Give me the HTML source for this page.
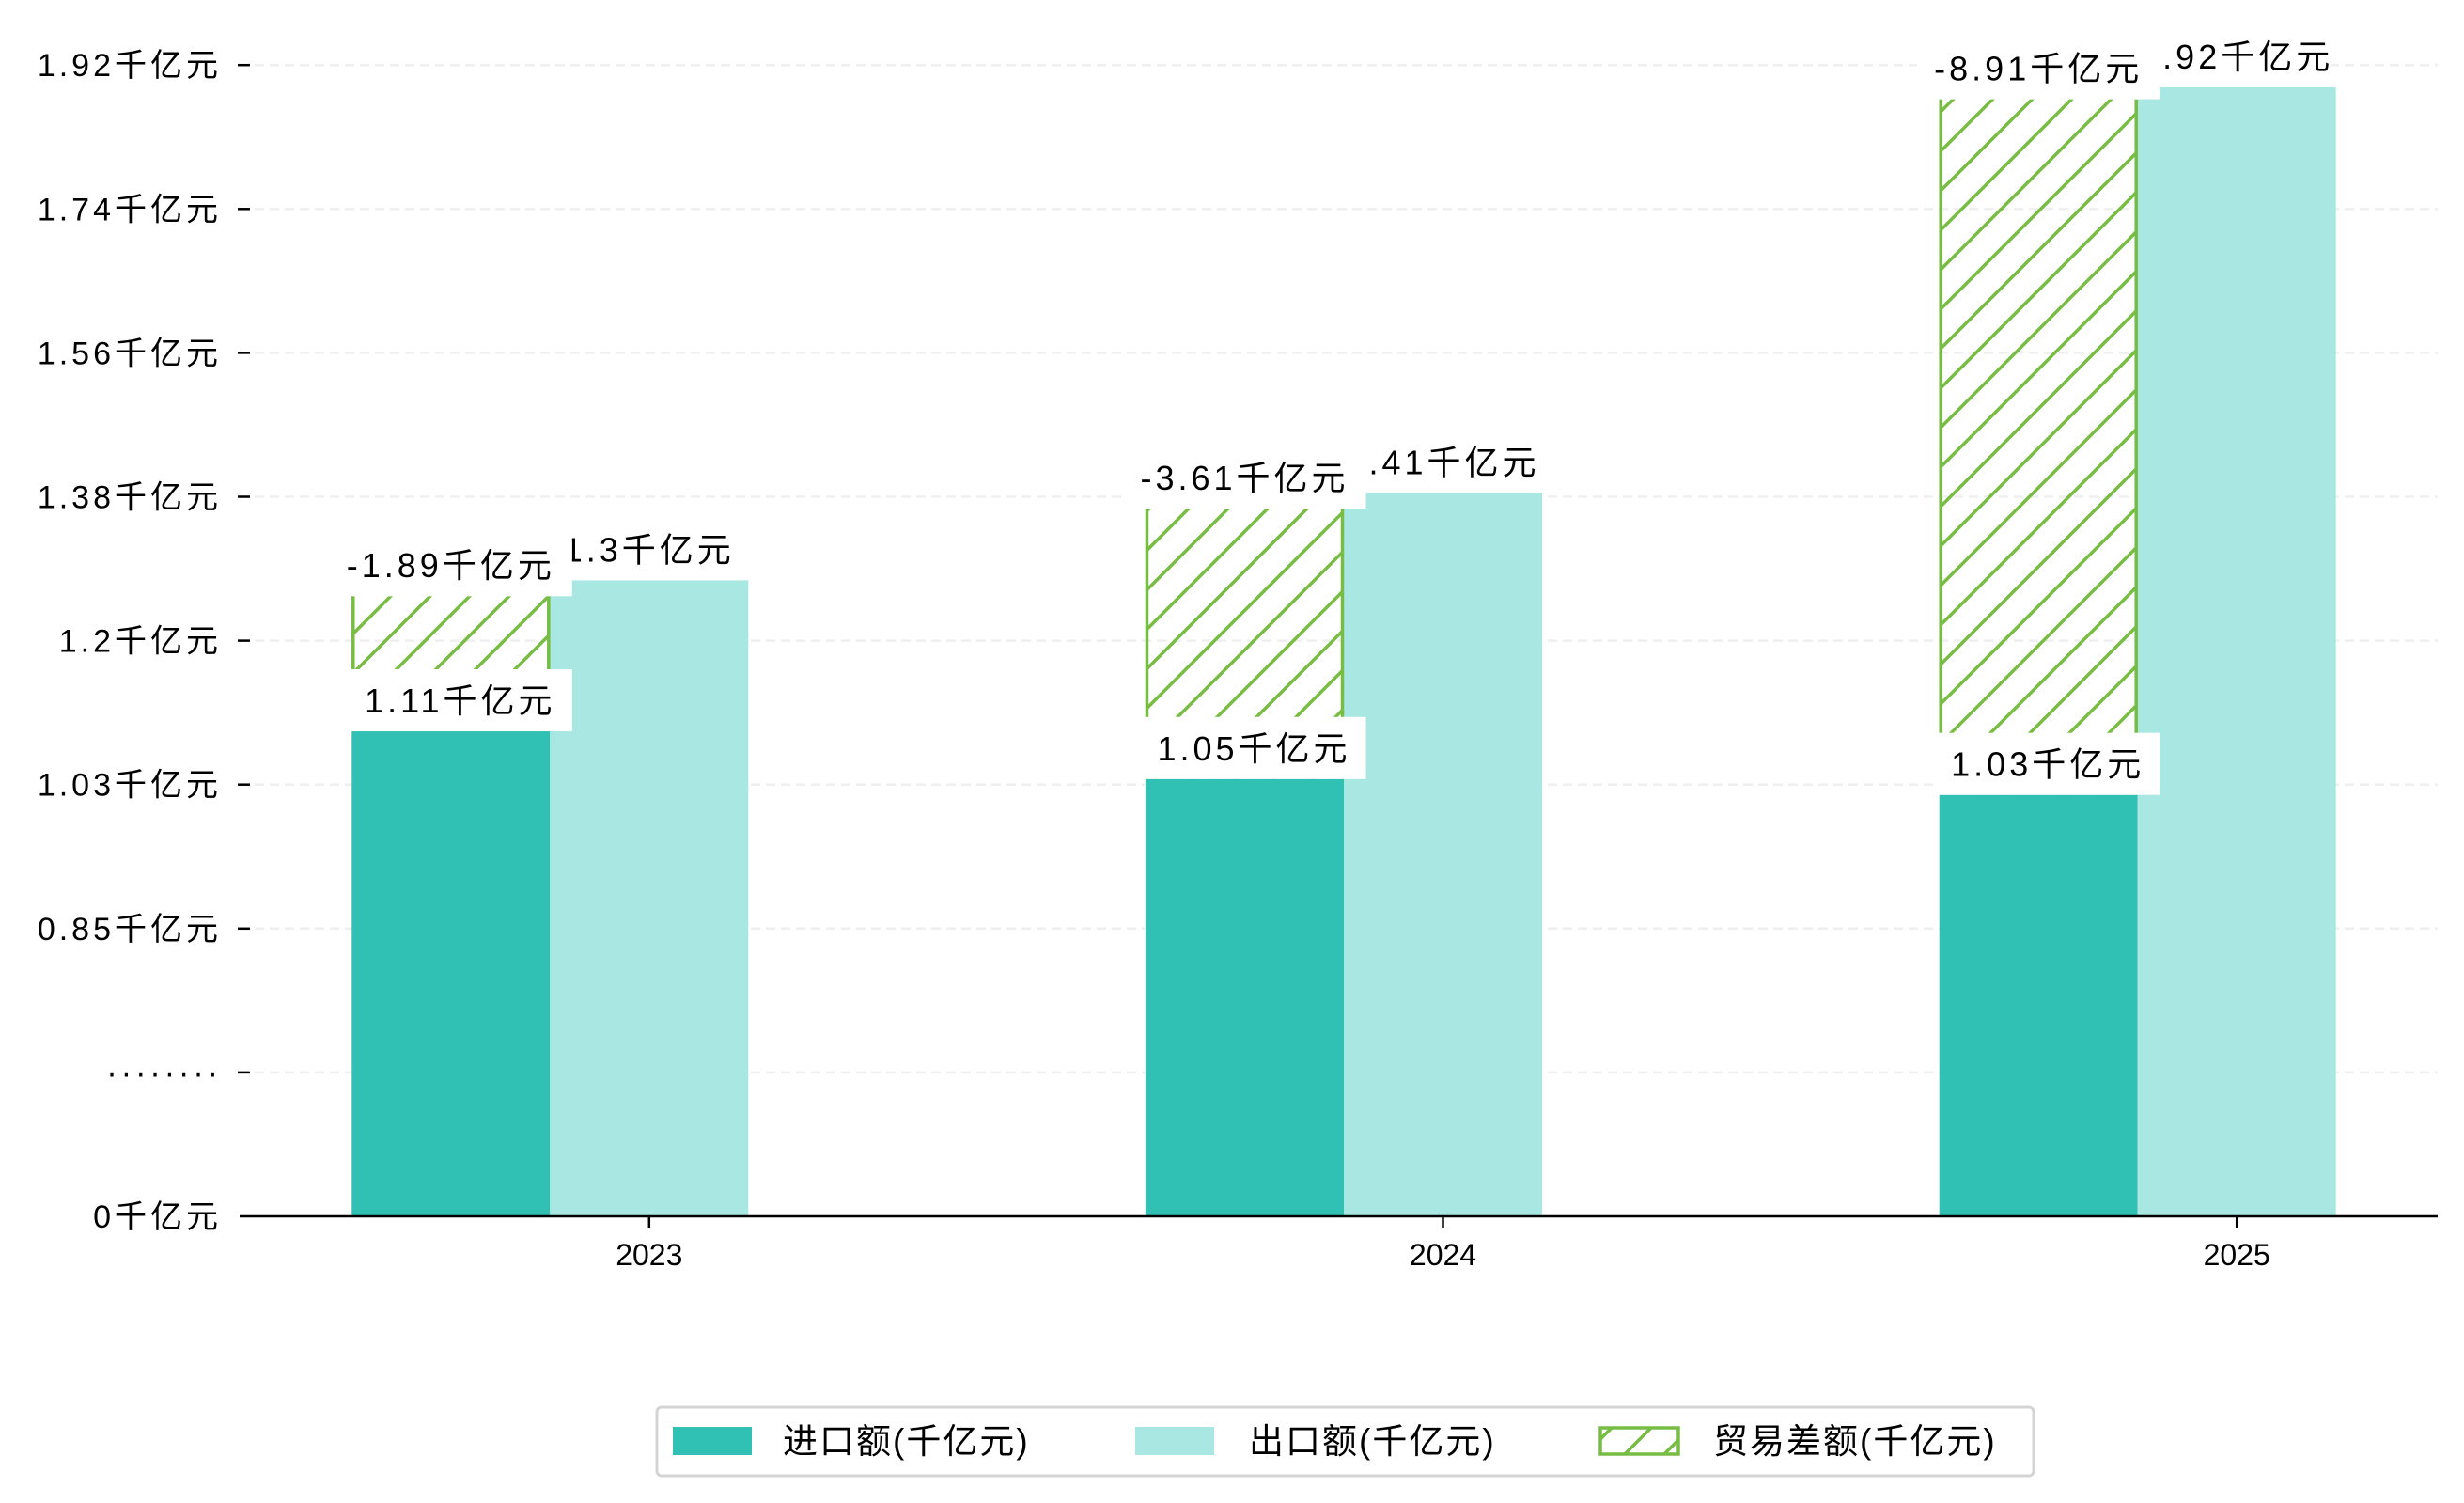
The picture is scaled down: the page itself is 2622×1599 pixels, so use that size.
<!DOCTYPE html>
<html><head><meta charset="utf-8">
<style>
html,body{margin:0;padding:0;background:#fff;}
svg{display:block;font-family:"Liberation Sans","Noto Sans CJK SC",sans-serif;}
</style></head>
<body>
<svg id="chart" width="2622" height="1599" viewBox="0 0 2622 1599" xmlns="http://www.w3.org/2000/svg">
<defs>
<pattern id="hatch" patternUnits="userSpaceOnUse" width="42" height="42">
<path d="M-10,52 L52,-10 M-10,10 L10,-10 M32,52 L52,32" stroke="#77bd43" stroke-width="3.5"/>
</pattern>
</defs>
<g id="grid"></g>
<g id="bars"></g>
<g id="labels"></g>
<g id="axes"></g>
<g id="legend">
<rect x="699" y="1497" width="1465" height="73" rx="5" fill="#fff" stroke="#d4d4d4" stroke-width="3"/>
<rect x="716" y="1518" width="84" height="30" fill="#31c0b4"/>
<text x="833" y="1546" font-size="37" letter-spacing="2">进口额(千亿元)</text>
<rect x="1208" y="1518" width="84" height="30" fill="#a9e8e2"/>
<text x="1329" y="1546" font-size="37" letter-spacing="2">出口额(千亿元)</text>
<rect x="1703" y="1519" width="83" height="28" fill="url(#hatch)" stroke="#77bd43" stroke-width="3.5"/>
<text x="1823" y="1546" font-size="37" letter-spacing="2">贸易差额(千亿元)</text>
</g>
</svg>
<script>
const categories = ["2023","2024","2025"];
const importVals = [1.11, 1.05, 1.03];
const exportVals = [1.30, 1.41, 1.92];
const balanceTop = [1.28, 1.39, 1.905];
const balanceLabels = ["-1.89千亿元","-3.61千亿元","-8.91千亿元"];
const importLabels = ["1.11千亿元","1.05千亿元","1.03千亿元"];
const exportLabels = ["1.3千亿元","1.41千亿元","1.92千亿元"];
const yTickLabels = ["0千亿元","········","0.85千亿元","1.03千亿元","1.2千亿元","1.38千亿元","1.56千亿元","1.74千亿元","1.92千亿元"];

const NS="http://www.w3.org/2000/svg";
const base=1294, tickStep=153.1, xL=255, xR=2594;
const centers0=690.8, centerStep=844.7, bw=211;
function xCenter(i){return centers0+i*centerStep;}
function yScale(v){ if(v<=0) return base; return base - tickStep*(v-0.5)/0.181; }
function tickY(k){return base - k*tickStep;}
function mk(tag,attrs,parent){const e=document.createElementNS(NS,tag);for(const k in attrs)e.setAttribute(k,attrs[k]);parent.appendChild(e);return e;}

const grid=document.getElementById('grid'), bars=document.getElementById('bars'), labels=document.getElementById('labels'), axes=document.getElementById('axes');

yTickLabels.forEach((t,k)=>{
  const y=tickY(k);
  if(k>0){
    const g=mk('line',{x1:xL,x2:xR,y1:y,y2:y,stroke:'#efefef','stroke-width':2.5,'stroke-dasharray':'10,6'},grid);
    
    
    const tm=mk('line',{x1:253,x2:266,y1:y,y2:y,stroke:'#000','stroke-width':2.5},axes);
    
    
  }
  const tx=mk('text',{x:236,y:y+12,'font-size':34,'text-anchor':'end','letter-spacing':4},axes);
  tx.textContent=t;
  
  
});

categories.forEach((c,i)=>{
  const cx=xCenter(i);
  const ix=cx-1.5*bw, ex=cx-0.5*bw;
  const yi=yScale(importVals[i]), ye=yScale(exportVals[i]), yb=yScale(balanceTop[i]);
  const rb=mk('rect',{x:ix,y:yi,width:bw,height:base-yi,fill:'#31c0b4'},bars);
  
  
  const re=mk('rect',{x:ex,y:ye,width:bw,height:base-ye,fill:'#a9e8e2'},bars);
  
  
  const rh=mk('rect',{x:ix,y:yb,width:bw,height:yi-yb,fill:'url(#hatch)'},bars);
  
  
  const l1=mk('line',{x1:ix+1.5,x2:ix+1.5,y1:yb,y2:yi,stroke:'#77bd43','stroke-width':3.5},bars);
  
  
  const l2=mk('line',{x1:ix+bw-1.5,x2:ix+bw-1.5,y1:yb,y2:yi,stroke:'#77bd43','stroke-width':3.5},bars);
  
  

  function lab(text,xc,ybottom,w,name){
    const g=mk('g',{},labels);
    
    
    mk('rect',{x:xc-w/2,y:ybottom-66,width:w,height:66,fill:'#fff'},g);
    const t=mk('text',{x:xc,y:ybottom-20,'font-size':36,'text-anchor':'middle','letter-spacing':4},g);
    t.textContent=text;
  }
  lab(exportLabels[i],ex+bw/2,ye,200,'label-export-'+c);
  lab(balanceLabels[i],ix+bw/2,yb,258,'label-balance-'+c);
  lab(importLabels[i],ix+bw/2+10,yi,238,'label-import-'+c);

  const tk=mk('line',{x1:cx,x2:cx,y1:base,y2:base+12,stroke:'#000','stroke-width':2.5},axes);
  
  
  const xt=mk('text',{x:cx,y:base+52,'font-size':32,'text-anchor':'middle'},axes);
  xt.textContent=c;
  
  
});
const ax=mk('line',{x1:xL,x2:xR,y1:base,y2:base,stroke:'#000','stroke-width':2.5},axes);


</script>
</body></html>
